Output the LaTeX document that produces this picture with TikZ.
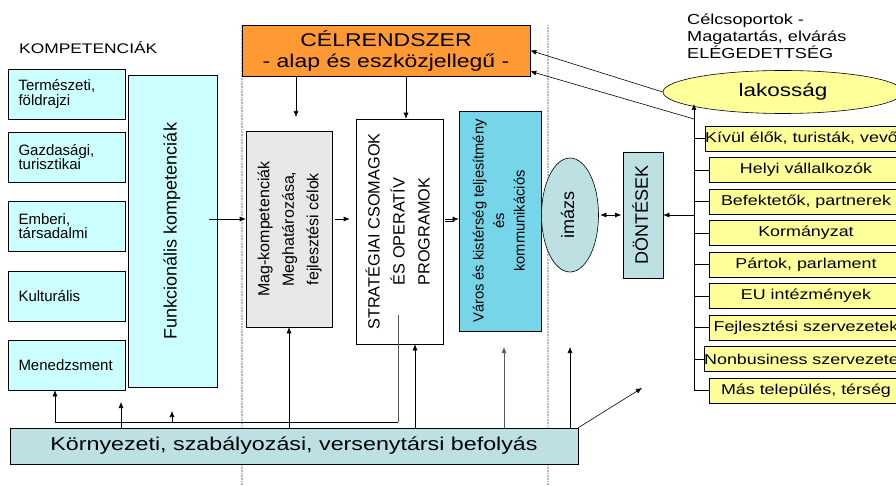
\documentclass[tikz,border=0pt]{standalone}
\usepackage{graphicx}
\usepackage{fontspec}
\setmainfont{Liberation Sans}
\newfontfamily\widefont[FakeStretch=1.25]{Liberation Sans}
\usetikzlibrary{arrows.meta,shapes.geometric}
\newcommand{\fsz}[2]{\fontsize{#1pt}{#2pt}\selectfont}
\newcommand{\uptext}[1]{\rotatebox{90}{\begin{tabular}{@{}c@{}}#1\end{tabular}}}
\definecolor{kompcyan}{HTML}{CCFFFF}
\definecolor{celorange}{HTML}{FF9933}
\definecolor{maggray}{HTML}{E8E8E8}
\definecolor{varosblue}{HTML}{77D5EA}
\definecolor{imazsteal}{HTML}{BDE0E3}
\definecolor{lakyellow}{HTML}{FFFF99}
\tikzset{
  plainbox/.style={draw, line width=0.6pt, inner sep=0pt, align=center},
  kompbox/.style={plainbox, fill=kompcyan, minimum width=117pt, minimum height=50pt, text width=96pt, align=left, font=\fsz{15}{14.5}},
  csopbox/.style={plainbox, fill=lakyellow, minimum width=194pt, minimum height=25pt, font=\widefont\fsz{14.3}{16}},
  arr/.style={-{Latex[length=6pt,width=5pt]}, line width=0.6pt},
  arrr/.style={{Latex[length=6pt,width=5pt]}-{Latex[length=6pt,width=5pt]}, line width=0.6pt},
  sepline/.style={gray!55, line width=1.2pt, dash pattern=on 0.8pt off 0.8pt}
}
\begin{document}
\begin{tikzpicture}[x=1pt,y=-1pt]
\useasboundingbox (0,0) rectangle (896,486);
\draw[sepline] (242,25) -- (242,486);
\draw[sepline] (548,25) -- (548,486);

\node[anchor=base west, inner sep=0pt, font=\widefont\fsz{13.9}{16}] (kompcim) at (19,53.3) {KOMPETENCIÁK};
\node[kompbox] (ktermeszet) at (66.5,94) {Természeti,\\földrajzi};
\node[kompbox] (kgazdasag) at (66.5,157) {Gazdasági,\\turisztikai};
\node[kompbox] (kember) at (66.5,226) {Emberi,\\társadalmi};
\node[kompbox] (kkultura) at (66.5,296) {Kulturális};
\node[kompbox] (kmenedzs) at (66.5,365) {Menedzsment};
\node[plainbox, fill=kompcyan, minimum width=89pt, minimum height=312pt, font=\fsz{18}{20}] (funk) at (172.5,231) {\uptext{Funkcionális kompetenciák}};

\node[plainbox, fill=celorange, minimum width=288pt, minimum height=51pt, font=\widefont\fsz{18.4}{21}] (cel) at (386,50.5) {CÉLRENDSZER\\- alap és eszközjellegű -};
\node[plainbox, fill=maggray, minimum width=86pt, minimum height=196pt, font=\fsz{16}{24.5}] (mag) at (289,229) {\uptext{Mag-kompetenciák\\Meghatározása,\\fejlesztési célok}};
\node[plainbox, fill=white, minimum width=87pt, minimum height=225pt, font=\fsz{16.3}{25}] (strat) at (399.5,231.5) {\uptext{STRATÉGIAI CSOMAGOK\\ÉS OPERATÍV\\PROGRAMOK}};
\node[plainbox, fill=varosblue, minimum width=82pt, minimum height=220pt, font=\fsz{14.7}{20.5}] (varos) at (500,221) {\uptext{Város és kistérség teljesítmény\\és\\kommunikációs}};
\node[ellipse, draw, line width=0.6pt, fill=imazsteal, inner sep=0pt, minimum width=57pt, minimum height=114pt, font=\fsz{18}{20}] (imazs) at (570,215) {\uptext{imázs}};
\node[plainbox, fill=imazsteal, minimum width=40pt, minimum height=126pt, font=\fsz{18}{20}] (dont) at (643,215) {\uptext{DÖNTÉSEK}};

\node[anchor=north west, inner sep=0pt, align=left, font=\widefont\fsz{14.5}{17}] (celcsop) at (687,14) {Célcsoportok -\\Magatartás, elvárás\\ELÉGEDETTSÉG};
\node[ellipse, draw, line width=0.6pt, fill=lakyellow, inner sep=0pt, minimum width=240pt, minimum height=43pt, font=\widefont\fsz{18}{20}] (lak) at (783,92) {lakosság};

\node[plainbox, fill=imazsteal, minimum width=568pt, minimum height=36pt, font=\widefont\fsz{18.6}{20}] (kor) at (294,446) {Környezeti, szabályozási, versenytársi befolyás};

\coordinate (trtop) at (694,104);
\coordinate (trbot) at (694,391);
\coordinate (tj) at (694,119);
\draw[arr] (trbot) -- (trtop);
\foreach \nev [count=\i] in {{Kívül élők, turisták, vevők}, Helyi vállalkozók, {Befektetők, partnerek}, Kormányzat, {Pártok, parlament}, EU intézmények, Fejlesztési szervezetek, Nonbusiness szervezetek, {Más település, térség}}
{
  \node[csopbox] (cs\i) at (806,{107+31.5*\i}) {\nev};
  \draw[line width=0.6pt] (cs\i.west -| trbot) -- (cs\i.west);
}
\draw[arr] (lak.west) -- (cel.east);
\draw[arr] (tj) -- ([yshift=5pt]cel.south east);
\draw[arr] (dont.east -| trtop) -- (dont.east);
\draw[arrr, shorten <=1.5pt, shorten >=1.5pt] (imazs.east) -- (dont.west);

\coordinate (t1) at (296,117);
\coordinate (t2) at (406,0);
\draw[arr] (cel.south -| t1) -- (t1);
\draw[arr] (cel.south -| t2) -- (strat.north -| t2);

\coordinate (fk) at (209,219);
\coordinate (ya) at (0,219);
\coordinate (yb) at (0,221.5);
\draw[arr] (fk) -- (fk -| mag.west);
\draw[arr, shorten <=3pt, shorten >=6pt] (ya -| mag.east) -- (ya -| strat.west);
\draw[arr, shorten <=2pt] (ya -| strat.east) -- (ya -| varos.west);
\draw[line width=0.6pt, shorten <=2pt, shorten >=5pt] (yb -| strat.east) -- (yb -| varos.west);

\coordinate (hb) at (55,422);
\coordinate (sp) at (398,315);
\coordinate (fx1) at (121,402);
\coordinate (fx2) at (172,411);
\coordinate (sx) at (415,0);
\coordinate (fx3) at (504,347);
\coordinate (fx4) at (570,347);
\coordinate (fx5) at (642,388);
\draw[line width=0.6pt, gray!70!black] (sp) -- (sp |- hb);
\draw[arr] (sp |- hb) -- (hb) -- (hb |- kmenedzs.south);
\draw[arr] (kor.north -| fx1) -- (fx1);
\draw[arr] (fx2 |- hb) -- (fx2);
\draw[arr] (kor.north -| mag.south) -- (mag.south);
\draw[arr] (kor.north -| sx) -- (strat.south -| sx);
\draw[arr, gray!70!black] (kor.north -| fx3) -- (fx3);
\draw[arr] (kor.north -| fx4) -- (fx4);
\draw[arr] (kor.north east) -- (fx5);
\end{tikzpicture}
\end{document}
